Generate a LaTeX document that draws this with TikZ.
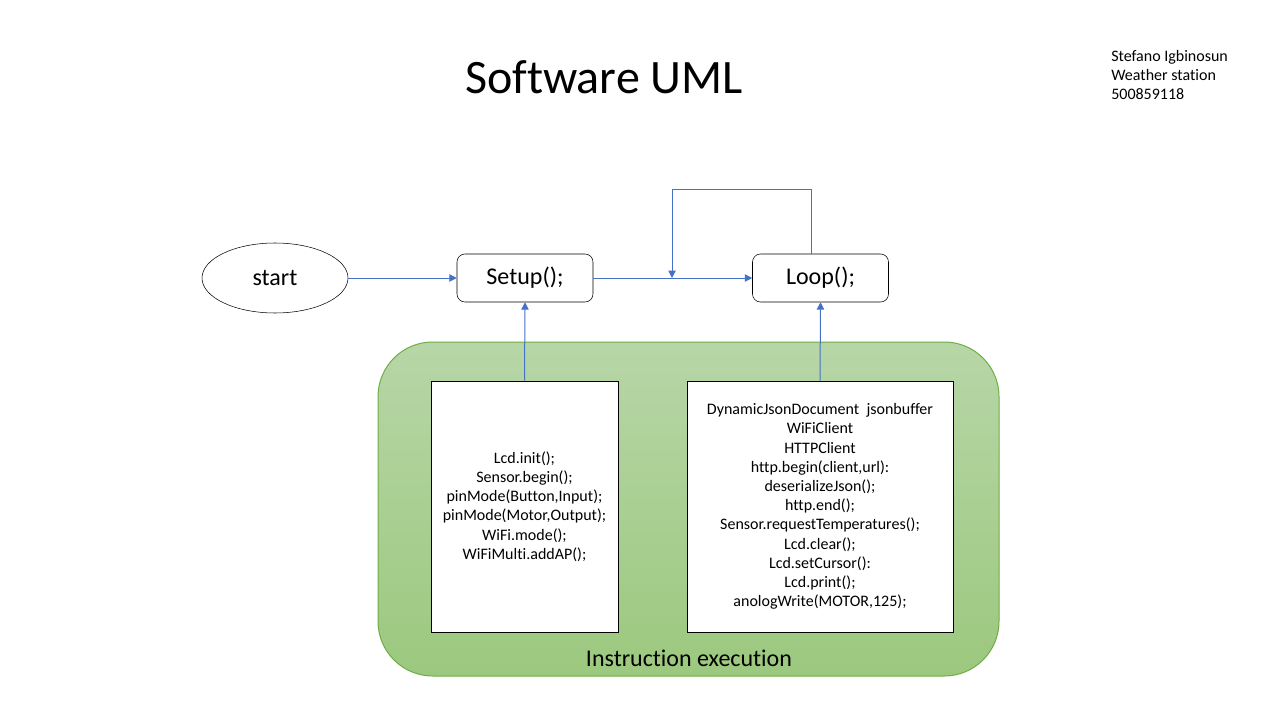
\documentclass[tikz,border=0pt]{standalone}
\usepackage{fontspec}
\setmainfont[Ligatures=NoCommon]{Carlito}
\definecolor{FlowArrow}{RGB}{68,114,196}
\definecolor{GroupBorder}{RGB}{112,173,71}
\definecolor{GroupTop}{RGB}{183,214,167}
\definecolor{GroupBottom}{RGB}{156,200,126}
\usetikzlibrary{arrows.meta, shapes.geometric}
\tikzset{
    step box/.style={
        draw=black, rounded corners=6pt, minimum width=102pt, minimum height=36pt,
        font=\fontsize{18}{22}\selectfont
    },
    code box/.style={
        draw=black, fill=white, align=center, inner sep=0pt, minimum height=188.25pt,
        font=\fontsize{12}{14.4}\selectfont
    },
    flow/.style={draw=FlowArrow, line width=0.75pt, -{Triangle[length=5.5pt, width=5.5pt]}}
}

\begin{document}
\begin{tikzpicture}[x=0.75pt, y=-0.75pt]

    \fill[white] (0,0) rectangle (1280,720);
    \useasboundingbox (0,0) rectangle (1280,720);

    \node (title) at (604,77) {\fontsize{36}{43}\selectfont Software UML};
    \node (author) [anchor=west, align=left, inner sep=0pt, font=\fontsize{12}{14.4}\selectfont]
        at (1111,75) {Stefano Igbinosun\\Weather station\\500859118};

    % Groep met de instructies
    \draw[draw=GroupBorder, line width=0.75pt, rounded corners=41pt,
        top color=GroupTop, bottom color=GroupBottom] (378,342) rectangle (999,676);
    \node (group) at (689,658) {\fontsize{18}{22}\selectfont Instruction execution};

    \node (start) [draw=black, ellipse, minimum width=109.5pt, minimum height=52.5pt,
        inner sep=0pt, font=\fontsize{18}{22}\selectfont] at (275,278) {start};
    \node (setup) [step box] at (525,278) {Setup();};
    \node (loop) [step box] at (820.5,278) {Loop();};

    \node (setupCode) [code box, minimum width=140.25pt] at (524.5,506.5)
        {Lcd.init();\\Sensor.begin();\\pinMode(Button,Input);\\pinMode(Motor,Output);\\WiFi.mode();\\WiFiMulti.addAP();};
    \node (loopCode) [code box, minimum width=199.5pt] at (820,506.5)
        {DynamicJsonDocument\ \ jsonbuffer\\WiFiClient\\HTTPClient\\http.begin(client,url):\\deserializeJson();\\http.end();\\Sensor.requestTemperatures();\\Lcd.clear();\\Lcd.setCursor():\\Lcd.print();\\anologWrite(MOTOR,125);};

    \coordinate (back) at (672,278);
    \coordinate (turn) at (672,190);

    % Verbindingen
    \draw[flow] (start) -- (setup);
    \draw[flow] (setup) -- (loop);
    \draw[flow] ([xshift=-7pt]loop.north) |- (turn) -- (back);
    \draw[flow] (setupCode.north) -- (setup.south);
    \draw[flow] (loopCode.north) -- (loop.south);

\end{tikzpicture}
\end{document}
